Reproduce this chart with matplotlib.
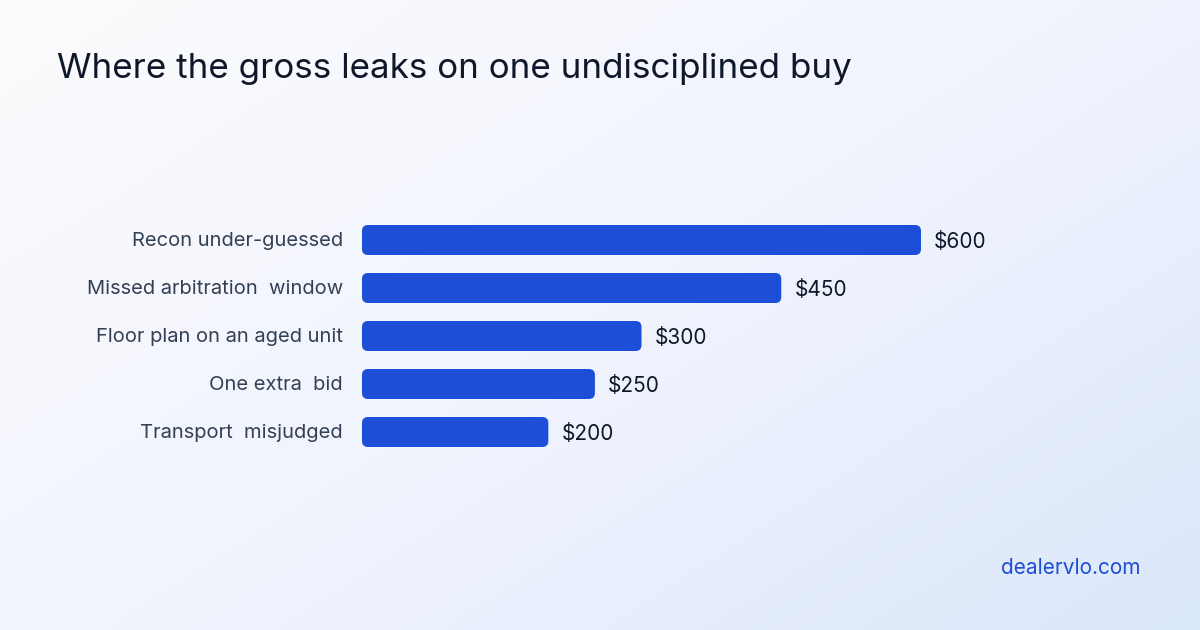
import numpy as np
import matplotlib.pyplot as plt
from matplotlib.patches import FancyBboxPatch
from matplotlib.colors import LinearSegmentedColormap

plt.rcParams['font.family'] = ['Inter', 'DejaVu Sans']

# data
categories = ["Recon under-guessed", "Missed arbitration  window", "Floor plan on an aged unit",
              "One extra  bid", "Transport  misjudged"]
values = [600, 450, 300, 250, 200]
value_labels = ["$600", "$450", "$300", "$250", "$200"]

title = "Where the gross leaks on one undisciplined buy"
footer = "dealervlo.com"

W, H = 1200, 630
fig = plt.figure(figsize=(12, 6.3), dpi=100)

# diagonal background gradient
bg = fig.add_axes([0, 0, 1, 1])
xx, yy = np.meshgrid(np.linspace(0, 1, 300), np.linspace(0, 1, 160))
grad = (xx * 0.55 + yy * 0.45)
cmap = LinearSegmentedColormap.from_list("bg", ["#fcfcfe", "#f1f4fd", "#dbe7fb"])
bg.imshow(grad, cmap=cmap, aspect='auto', extent=[0, 1, 0, 1], origin='upper')
bg.axis('off')

fig.text(57 / W, 1 - 69 / H, title, fontsize=25.2, color="#0f172a", va='center', ha='left')
fig.text(1141 / W, 1 - 568 / H, footer, fontsize=15, color="#1d4ed8", va='center', ha='right')

# main axes: x 362..921 px maps 0..600, rows 48 px apart
left, right = 362, 921
top, bottom = 216, 456
ax = fig.add_axes([left / W, 1 - bottom / H, (right - left) / W, (bottom - top) / H])
ax.set_xlim(0, 600)
ax.set_ylim(len(categories) - 0.5, -0.5)
ax.axis('off')

ypos = np.arange(len(categories))
bar_h = 30 / 48
bars = ax.barh(ypos, values, height=bar_h, color='none')

px_x = 600 / (right - left)
px_y = 1 / 48
radius = 6 * px_x
for b, lab, vl, y in zip(bars, categories, value_labels, ypos):
    x0, y0 = b.get_x(), b.get_y()
    w, h = b.get_width(), b.get_height()
    p = FancyBboxPatch((x0, y0), w, h,
                       boxstyle=f"round,pad=0,rounding_size={radius}",
                       mutation_aspect=px_y / px_x,
                       facecolor="#1d4ed8", edgecolor='none')
    ax.add_patch(p)
    ax.text(w + 13 * px_x, y + 1.5 * px_y, vl, fontsize=15, color="#0f172a",
            va='center', ha='left', clip_on=False)
    ax.text(-19 * px_x, y + 1.5 * px_y, lab, fontsize=14.5, color="#334155",
            va='center', ha='right', clip_on=False)

fig.savefig("out.png", dpi=100)
